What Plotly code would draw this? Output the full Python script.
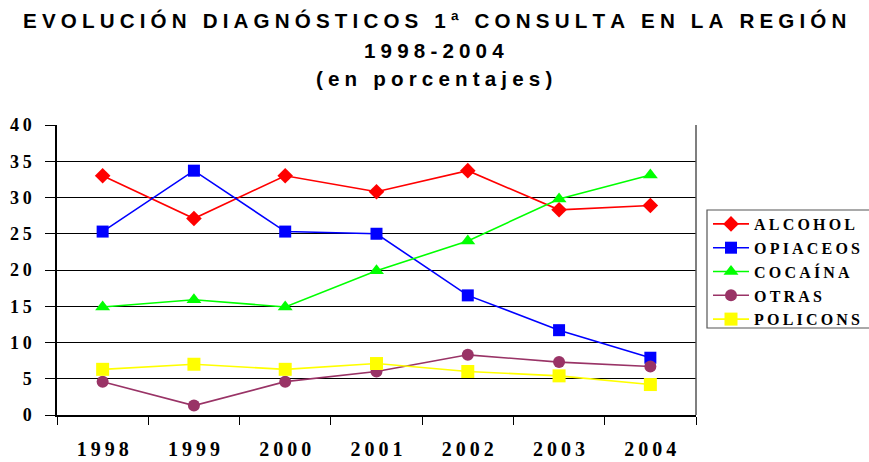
import plotly.graph_objects as go

years = ["1998", "1999", "2000", "2001", "2002", "2003", "2004"]

alcohol = [33.0, 27.1, 33.0, 30.8, 33.7, 28.3, 28.9]
opiaceos = [25.3, 33.7, 25.3, 25.0, 16.5, 11.7, 7.9]
cocaina = [14.9, 15.9, 14.9, 19.9, 24.0, 29.8, 33.1]
otras = [4.6, 1.3, 4.6, 6.0, 8.3, 7.3, 6.7]
policons = [6.3, 7.0, 6.3, 7.1, 6.0, 5.4, 4.2]

y_ticks = [0, 5, 10, 15, 20, 25, 30, 35, 40]


def spaced(s, sep="\u2009"):
    # the original chart is set with wide letter spacing
    return sep.join(s)


series = [
    ("ALCOHOL", alcohol, "#FF0000", "diamond", 12),
    ("OPIACEOS", opiaceos, "#0000FF", "square", 12),
    ("COCAÍNA", cocaina, "#00FF00", "triangle-up", 13),
    ("OTRAS", otras, "#993366", "circle", 12),
    ("POLICONS", policons, "#FFFF00", "square", 13),
]

fig = go.Figure()
for name, vals, col, sym, size in series:
    fig.add_trace(go.Scatter(
        x=years,
        y=vals,
        mode="lines+markers",
        name=spaced(name, "\u2009"),
        legendgroup=name,
        line=dict(color=col, width=1.6),
        marker=dict(symbol=sym, size=size, color=col),
    ))

title_font = dict(family="Liberation Sans", size=20.6, color="black", weight="bold")
title_lines = [
    ("EVOLUCIÓN DIAGNÓSTICOS 1ª CONSULTA EN LA REGIÓN", 21),
    ("1998-2004", 50),
    ("(en porcentajes)", 78),
]
for text, ypx in title_lines:
    fig.add_annotation(
        text=spaced(text, "\u2005"), xref="paper", yref="paper",
        x=(434 - 57) / 639, y=(415 - ypx) / 290,
        xanchor="center", yanchor="middle", showarrow=False,
        font=title_font,
    )

# legend frame, drawn separately so the entries can sit where the original has them
fig.add_shape(type="rect", xref="paper", yref="paper",
              x0=(707 - 57) / 639, x1=(875 - 57) / 639,
              y0=(415 - 328) / 290, y1=(415 - 210) / 290,
              line=dict(color="#555555", width=1.2))
fig.add_shape(type="line", xref="paper", yref="paper", x0=1, x1=1, y0=0, y1=1,
              line=dict(color="#555555", width=1.5))

fig.update_layout(
    width=869,
    height=462,
    margin=dict(l=57, r=173, t=125, b=47, autoexpand=False),
    paper_bgcolor="white",
    plot_bgcolor="white",
    showlegend=True,
    legend=dict(
        x=(708 - 57) / 639, y=(415 - 207) / 290,
        xanchor="left", yanchor="top",
        bgcolor="rgba(0,0,0,0)",
        borderwidth=0,
        itemwidth=36,
        font=dict(family="Liberation Serif", size=16, color="black", weight="bold"),
        tracegroupgap=0,
        traceorder="grouped",
    ),
    xaxis=dict(
        type="category",
        range=[-0.5, len(years) - 0.5],
        tickson="boundaries",
        ticks="outside", ticklen=8, tickcolor="black",
        showgrid=False,
        showline=True, linecolor="black", linewidth=1.5,
        tickvals=years,
        ticktext=[spaced(y) for y in years],
        tickfont=dict(family="Liberation Serif", size=20, color="black", weight="bold"),
        ticklabelstandoff=15,
        automargin=False,
    ),
    yaxis=dict(
        range=[0, 40],
        tickvals=y_ticks,
        ticktext=[spaced(str(v)) for v in y_ticks],
        ticks="outside", ticklen=10, tickcolor="black",
        showgrid=True, gridcolor="black", gridwidth=1,
        showline=True, linecolor="black", linewidth=1.5,
        zeroline=False,
        tickfont=dict(family="Liberation Serif", size=18, color="black", weight="bold"),
        ticklabelstandoff=10,
        automargin=False,
    ),
)

# the page body has a default 8px margin; drop it so the figure fills the window
fig.write_html("out.html", config={"displayModeBar": False},
               post_script="document.body.style.margin='0px';")
